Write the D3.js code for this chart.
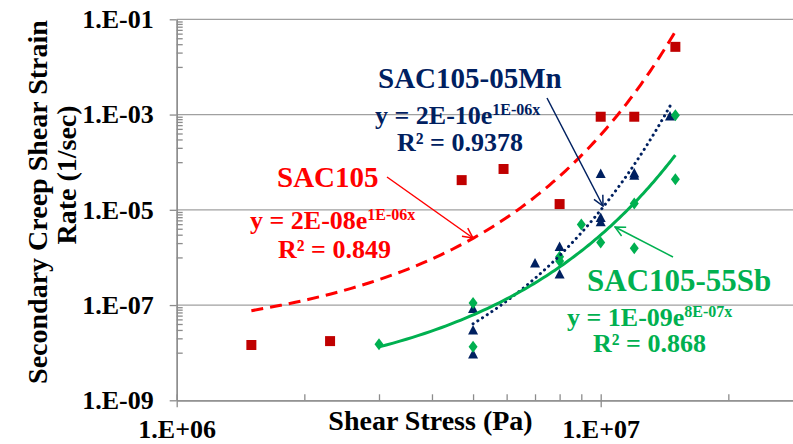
<!DOCTYPE html>
<html>
<head>
<meta charset="utf-8">
<script src="https://cdn.jsdelivr.net/npm/d3@7"></script>
<style>
  body { margin: 0; background: #fff; }
  svg { display: block; }
  svg text { font-family: "Liberation Serif", "Times New Roman", Times, "DejaVu Serif", serif !important; font-weight: bold; }
</style>
</head>
<body>
<div id="container"></div>
<script>
// SAC105 (red squares)
const sac105X = [1.5e6, 2.3e6, 4.7e6, 5.9e6, 8e6, 1e7, 1.2e7, 1.5e7];
const sac105Y = [1.45e-8, 1.75e-8, 4.2e-5, 7.2e-5, 1.32e-5, 9.0e-4, 9.0e-4, 2.64e-2];
// SAC105-05Mn (navy triangles)
const mnX = [5e6, 5e6, 5e6, 7e6, 8e6, 8e6, 1e7, 1e7, 1e7, 1.2e7, 1.2e7, 1.457e7];
const mnY = [8.5e-8, 3.0e-8, 9.4e-9, 7.6e-7, 1.69e-6, 4.5e-7, 5.8e-5, 6.9e-6, 5.6e-6, 5.9e-5, 5.3e-5, 9.3e-4];
// SAC105-55Sb (green diamonds)
const sbX = [3e6, 5e6, 5e6, 8e6, 8e6, 9e6, 1e7, 1.2e7, 1.2e7, 1.5e7, 1.5e7];
const sbY = [1.5e-8, 1.1e-7, 1.33e-8, 1.03e-6, 8.4e-7, 4.9e-6, 2.06e-6, 1.36e-5, 1.55e-6, 4.4e-5, 9.7e-4];

// exponential trendlines y = a * exp(b x)
const sac105Trend = {a: 1.7e-8, b: 1e-6, from: 1.5e6, to: 1.5e7};
const mnTrend = {a: 1.65e-10, b: 1.1e-6, from: 5e6, to: 1.457e7};
const sbTrend = {a: 1.3e-9, b: 7.73e-7, from: 3e6, to: 1.5e7};

const yTicks = [1e-9, 1e-7, 1e-5, 1e-3, 1e-1];
const xTicks = [1e6, 1e7];

const W = 793, H = 444;
const red = "#ff0000", darkRed = "#c00000", navy = "#002060", green = "#00b050";

const svg = d3.select("#container").append("svg")
  .attr("width", W).attr("height", H);

const x = d3.scaleLog().domain([1e6, 1e8]).range([176.7, 1024.7]);
const y = d3.scaleLog().domain([1e-9, 1e-1]).range([400.3, 19.3]);

const fmt = v => {
  const e = Math.round(Math.log10(v));
  return "1.E" + (e < 0 ? "-" : "+") + String(Math.abs(e)).padStart(2, "0");
};

// minor ticks
const yMinor = [];
for (let e = -9; e < -1; e += 2)
  for (let k = 1; k <= 9; k++) yMinor.push(k * Math.pow(10, e + 1));
const xMinor = [];
for (let e = 6; e < 8; e++)
  for (let k = 2; k <= 9; k++) xMinor.push(k * Math.pow(10, e));

// gridlines
svg.append("g").selectAll("line")
  .data(yTicks.slice(1))
  .join("line")
  .attr("x1", x(1e6)).attr("x2", W)
  .attr("y1", d => y(d)).attr("y2", d => y(d))
  .attr("stroke", "#a0a0a0").attr("stroke-width", 1.3);

const axisColor = "#8c8c8c";
const styleAxis = g => {
  g.attr("font-family", null);
  g.selectAll("path, line").attr("stroke", axisColor).attr("stroke-width", 1.3);
  g.selectAll("text").attr("fill", "#000").attr("font-size", 26);
};

svg.append("g").attr("transform", `translate(${x(1e6)},0)`)
  .call(d3.axisLeft(y).tickValues(yMinor).tickSize(-6).tickSizeOuter(0).tickFormat(""))
  .call(styleAxis);
svg.append("g").attr("transform", `translate(${x(1e6)},0)`)
  .call(d3.axisLeft(y).tickValues(yTicks).tickSize(7).tickSizeOuter(0).tickPadding(16).tickFormat(fmt))
  .call(styleAxis);

svg.append("g").attr("transform", `translate(0,${y(1e-9)})`)
  .call(d3.axisBottom(x).tickValues(xMinor.concat(xTicks)).tickSize(-6).tickSizeOuter(0).tickFormat(""))
  .call(styleAxis);
svg.append("g").attr("transform", `translate(0,${y(1e-9)})`)
  .call(d3.axisBottom(x).tickValues(xTicks).tickSize(7).tickSizeOuter(0).tickPadding(12).tickFormat(fmt))
  .call(styleAxis);

// axis titles
svg.append("text")
  .attr("x", 430.5).attr("y", 430)
  .attr("text-anchor", "middle").attr("font-size", 28)
  .text("Shear Stress (Pa)");
svg.append("text")
  .attr("transform", "translate(47,202) rotate(-90)")
  .attr("text-anchor", "middle").attr("font-size", 28)
  .text("Secondary Creep Shear Strain");
svg.append("text")
  .attr("transform", "translate(76,175) rotate(-90)")
  .attr("text-anchor", "middle").attr("font-size", 28)
  .text("Rate (1/sec)");

// markers
const zip = (xs, ys) => xs.map((v, i) => ({x: v, y: ys[i]}));

svg.append("g").selectAll("path")
  .data(zip(sac105X, sac105Y))
  .join("path")
  .attr("transform", d => `translate(${x(d.x)},${y(d.y)})`)
  .attr("d", d3.symbol(d3.symbolSquare, 100))
  .attr("fill", darkRed);

svg.append("g").selectAll("path")
  .data(zip(mnX, mnY))
  .join("path")
  .attr("transform", d => `translate(${x(d.x)},${y(d.y)})`)
  .attr("d", "M0,-5L5,4.5L-5,4.5Z")
  .attr("fill", navy);

svg.append("g").selectAll("path")
  .data(zip(sbX, sbY))
  .join("path")
  .attr("transform", d => `translate(${x(d.x)},${y(d.y)})`)
  .attr("d", "M0,-6L4.5,0L0,6L-4.5,0Z")
  .attr("fill", green);

// trendlines
const trendPts = t => d3.range(0, 101).map(i => {
  const xv = t.from + (t.to - t.from) * i / 100;
  return [xv, t.a * Math.exp(t.b * xv)];
});
const line = d3.line().x(d => x(d[0])).y(d => y(d[1]));

svg.append("path").datum(trendPts(sac105Trend))
  .attr("d", line).attr("fill", "none")
  .attr("stroke", red).attr("stroke-width", 3).attr("stroke-dasharray", "12,7");
svg.append("path").datum(trendPts(mnTrend))
  .attr("d", line).attr("fill", "none")
  .attr("stroke", navy).attr("stroke-width", 3)
  .attr("stroke-dasharray", "0.1,5.5").attr("stroke-linecap", "round");
svg.append("path").datum(trendPts(sbTrend))
  .attr("d", line).attr("fill", "none")
  .attr("stroke", green).attr("stroke-width", 3);

// arrows
const defs = svg.append("defs");
[["arRed", red], ["arNavy", navy], ["arGreen", green]].forEach(([id, c]) => {
  defs.append("marker").attr("id", id)
    .attr("viewBox", "0 0 12 12").attr("refX", 11).attr("refY", 6)
    .attr("markerWidth", 12).attr("markerHeight", 12)
    .attr("markerUnits", "userSpaceOnUse").attr("orient", "auto")
    .append("path").attr("d", "M1,1L11,6L1,11")
    .attr("fill", "none").attr("stroke", c).attr("stroke-width", 1.5);
});
const arrow = (x1, y1, x2, y2, c, id) => svg.append("line")
  .attr("x1", x1).attr("y1", y1).attr("x2", x2).attr("y2", y2)
  .attr("stroke", c).attr("stroke-width", 1.5)
  .attr("marker-end", `url(#${id})`);
arrow(387, 177, 473, 238, red, "arRed");
arrow(547, 98, 603, 206, navy, "arNavy");
arrow(673, 257, 615, 227, green, "arGreen");

// labels
const label = (name, nameSize, eqMain, eqSup, r2, c, pos) => {
  svg.append("text").attr("x", pos[0][0]).attr("y", pos[0][1])
    .attr("fill", c).attr("font-size", nameSize).text(name);
  const t = svg.append("text").attr("x", pos[1][0]).attr("y", pos[1][1])
    .attr("fill", c).attr("font-size", 26);
  t.append("tspan").text(eqMain);
  t.append("tspan").attr("font-size", 16).attr("dy", -9).text(eqSup);
  svg.append("text").attr("x", pos[2][0]).attr("y", pos[2][1])
    .attr("fill", c).attr("font-size", 26).text(r2);
};
label("SAC105", 29, "y = 2E-08e", "1E-06x", "R² = 0.849", red,
  [[277, 187], [250, 229], [278, 258]]);
label("SAC105-05Mn", 29, "y = 2E-10e", "1E-06x", "R² = 0.9378", navy,
  [[378, 88], [375, 124], [397, 151]]);
label("SAC105-55Sb", 31, "y = 1E-09e", "8E-07x", "R² = 0.868", green,
  [[587, 291], [567, 326], [593, 352]]);
</script>
</body>
</html>
